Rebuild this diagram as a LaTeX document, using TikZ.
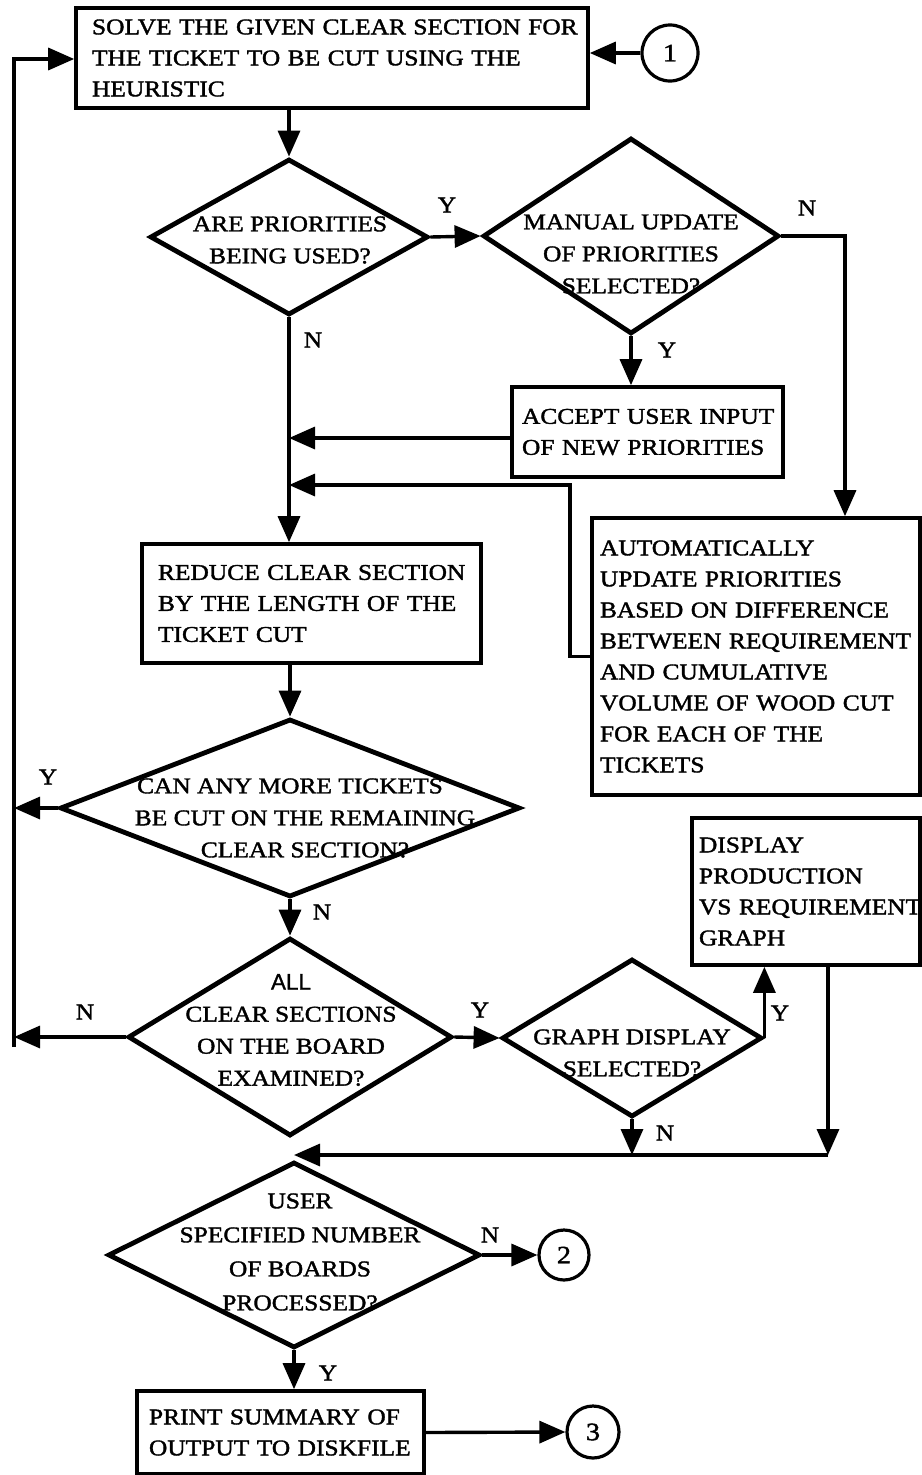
\documentclass[tikz,border=0pt]{standalone}
\usepackage{fontspec}
\setmainfont{Liberation Serif}[FakeStretch=1.13,FakeBold=1.6]
\newfontfamily\plainsans{Liberation Sans}[FakeBold=1.2]
\usetikzlibrary{arrows.meta,shapes.geometric,calc}
\begin{document}
\begin{tikzpicture}[x=1pt,y=-1pt,
  every node/.style={font=\fontsize{22.5}{31}\selectfont},
  box/.style={draw, rectangle, line width=3.6pt, align=left, inner ysep=0pt},
  dec/.style={draw, diamond, line width=4.8pt, inner sep=0pt},
  dtext/.style={align=center, inner sep=0pt, font=\fontsize{22.5}{32}\selectfont},
  conn/.style={line width=3.4pt},
  arr/.style={conn, -{Triangle[length=26pt,width=22pt]}},
  yn/.style={inner sep=0pt},
  linkc/.style={draw, circle, line width=3.2pt, inner sep=0pt, font=\fontsize{25}{25}\selectfont}
]
\useasboundingbox (0,0) rectangle (921,1475);

% process boxes
\node[box, minimum width=512pt, minimum height=100pt, text width=480pt, inner xsep=16pt] (b1) at (332,58)
  {\mbox{SOLVE THE GIVEN CLEAR SECTION FOR}\\\mbox{THE TICKET TO BE CUT USING THE}\\HEURISTIC};
\node[box, minimum width=271pt, minimum height=90pt, text width=251pt, inner xsep=10pt] (acc) at (647.5,432)
  {\mbox{ACCEPT USER INPUT}\\\mbox{OF NEW PRIORITIES}};
\node[box, minimum width=339pt, minimum height=119pt, text width=307pt, inner xsep=16pt] (red) at (311.5,603.5)
  {\mbox{REDUCE CLEAR SECTION}\\\mbox{BY THE LENGTH OF THE}\\\mbox{TICKET CUT}};
\node[box, minimum width=328pt, minimum height=277pt, text width=312pt, inner xsep=8pt] (auto) at (756,656.5)
  {\mbox{AUTOMATICALLY}\\\mbox{UPDATE PRIORITIES}\\\mbox{BASED ON DIFFERENCE}\\\mbox{BETWEEN REQUIREMENT}\\\mbox{AND CUMULATIVE}\\\mbox{VOLUME OF WOOD CUT}\\\mbox{FOR EACH OF THE}\\\mbox{TICKETS}};
\node[box, minimum width=228pt, minimum height=147pt, text width=214pt, inner xsep=7pt] (disp) at (806,891.5)
  {\mbox{DISPLAY}\\\mbox{PRODUCTION}\\\mbox{VS REQUIREMENT}\\\mbox{GRAPH}};
\node[box, minimum width=287pt, minimum height=83pt, text width=263pt, inner xsep=12pt] (print) at (280.5,1432.5)
  {\mbox{PRINT SUMMARY OF}\\\mbox{OUTPUT TO DISKFILE}};

% decisions
\node[dec, minimum width=278pt, minimum height=156pt] (d1) at (289,237) {};
\node[dtext] (d1t) at (290,240) {ARE PRIORITIES\\BEING USED?};
\node[dec, minimum width=296pt, minimum height=196pt] (d2) at (631,236) {};
\node[dtext] (d2t) at (631,254) {MANUAL UPDATE\\OF PRIORITIES\\SELECTED?};
\node[dec, minimum width=460pt, minimum height=178pt] (d3) at (290,808) {};
\node[dtext] (d3t) at (305,818) {\hspace*{-30pt}CAN ANY MORE TICKETS\\BE CUT ON THE REMAINING\\CLEAR SECTION?};
\node[dec, minimum width=324pt, minimum height=198pt] (d4) at (290,1037) {};
\node[dtext] (d4t) at (291,1030) {{\plainsans ALL}\\CLEAR SECTIONS\\ON THE BOARD\\EXAMINED?};
\node[dec, minimum width=260pt, minimum height=158pt] (d5) at (632,1038) {};
\node[dtext] (d5t) at (632,1053) {GRAPH DISPLAY\\SELECTED?};
\node[dec, minimum width=372pt, minimum height=186pt] (d6) at (294,1255) {};
\node[dtext, font=\fontsize{22.5}{34}\selectfont] (d6t) at (300,1252) {USER\\SPECIFIED NUMBER\\OF BOARDS\\PROCESSED?};

% off-page connectors
\node[linkc, minimum size=56pt] (c1) at (670,53) {1};
\node[linkc, minimum size=50pt] (c2) at (564,1255) {2};
\node[linkc, minimum size=52pt] (c3) at (593,1432) {3};

% branch labels
\node[yn] (ly1) at (447,205) {Y};
\node[yn] (ln1) at (313,340) {N};
\node[yn] (ln2) at (807,208) {N};
\node[yn] (ly2) at (667,350) {Y};
\node[yn] (ly3) at (48,777) {Y};
\node[yn] (ln3) at (322,912) {N};
\node[yn] (ln4) at (85,1012) {N};
\node[yn] (ly4) at (480,1010) {Y};
\node[yn] (ly5) at (780,1013) {Y};
\node[yn] (ln5) at (665,1133) {N};
\node[yn] (ln6) at (490,1235) {N};
\node[yn] (ly6) at (328,1373) {Y};

% routing points
\coordinate (Ltop) at (14,59);
\coordinate (Lbot) at (14,1047);
\coordinate (nA) at (845,236);
\coordinate (K) at (570,485);
\coordinate (J) at (828,1155);

% connectors
\draw[arr] (c1.west) -- (c1.west -| b1.east);
\draw[arr] (Lbot) -- (Ltop) -- (Ltop -| b1.west);
\draw[arr] (d1.north |- b1.south) -- (d1.north);
\draw[arr] (d1.east) -- (d2.west);
\draw[arr] (d2.east) -- (nA) -- (nA |- auto.north);
\draw[arr] (d2.south) -- (d2.south |- acc.north);
\draw[arr] ($(acc.west)+(0,6)$) -- ($(acc.west -| d1.south)+(0,6)$);
\draw[arr] (auto.west) -- (auto.west -| K) -- (K) -- (K -| d1.south);
\draw[arr] (d1.south) -- (d1.south |- red.north);
\draw[arr] (d3.north |- red.south) -- (d3.north);
\draw[arr] (d3.west) -- (d3.west -| Ltop);
\draw[arr] (d3.south) -- (d4.north);
\draw[arr] (d4.west) -- (d4.west -| Ltop);
\draw[arr] (d4.east) -- (d5.west);
\draw[arr] (d5.east) -- (d5.east |- disp.south);
\draw[arr] (J |- disp.south) -- (J);
\draw[arr] (J) -- (J -| d6.north);
\draw[arr] (d5.south) -- (d5.south |- J);
\draw[arr] (d6.east) -- (c2.west);
\draw[arr] (d6.south) -- (d6.south |- print.north);
\draw[arr] (print.east) -- (c3.west);
\end{tikzpicture}
\end{document}
